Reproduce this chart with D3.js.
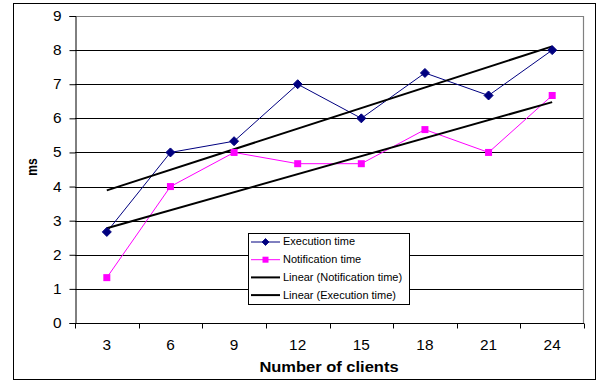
<!DOCTYPE html>
<html>
<head>
<meta charset="utf-8">
<script src="https://cdn.jsdelivr.net/npm/d3@7"></script>
<style>
  html, body { margin: 0; padding: 0; background: #fff; }
  svg { display: block; font-family: "Liberation Sans", Arial, sans-serif; }
</style>
</head>
<body>
<svg id="chart" width="597" height="381"></svg>
<script>
// Number of clients on the x axis
const clients = ["3", "6", "9", "12", "15", "18", "21", "24"];
// Measured times in ms
const executionTime = [2.67, 5.0, 5.33, 7.0, 6.0, 7.33, 6.67, 8.0];
const notificationTime = [1.33, 4.0, 5.0, 4.67, 4.67, 5.67, 5.0, 6.67];
const yTicks = [0, 1, 2, 3, 4, 5, 6, 7, 8, 9];
const legendLabels = ["Execution time", "Notification time", "Linear (Notification time)", "Linear (Execution time)"];

const svg = d3.select("#chart");
const plot = { left: 75, right: 584, top: 16, bottom: 323 };
const WIDEN = 1.1; // text is set slightly wide

// Widen text horizontally while keeping its anchor point fixed
function widen(sel, k = WIDEN) {
  sel.each(function () {
    const x0 = +this.getAttribute("x") || 0;
    d3.select(this).attr("transform", `translate(${x0 * (1 - k)},0) scale(${k},1)`);
  });
}

// Outer chart frame
svg.append("rect")
  .attr("x", 13.5).attr("y", 3.5).attr("width", 582).attr("height", 376)
  .attr("fill", "#fff").attr("stroke", "#000").attr("stroke-width", 1);

const x = d3.scaleBand().domain(clients).range([plot.left, plot.right]);
const y = d3.scaleLinear().domain([0, 9]).range([plot.bottom, plot.top]);

// Horizontal gridlines
svg.append("g").selectAll("line")
  .data(yTicks.filter(v => v > 0 && v < 9))
  .join("line")
  .attr("x1", plot.left).attr("x2", plot.right)
  .attr("y1", d => Math.round(y(d)) + 0.5).attr("y2", d => Math.round(y(d)) + 0.5)
  .attr("stroke", "#000").attr("stroke-width", 1);

// Plot area border (top and right in gray)
svg.append("path")
  .attr("d", `M${plot.left},${plot.top + 0.5}H${plot.right - 0.5}V${plot.bottom}`)
  .attr("fill", "none").attr("stroke", "#808080").attr("stroke-width", 1.2);

// Y axis
const yAxis = d3.axisLeft(y).tickValues(yTicks).tickSize(6).tickPadding(8).tickFormat(d3.format("d"));
const gy = svg.append("g").attr("transform", `translate(${plot.left + 0.5},0)`).call(yAxis);
gy.selectAll("text").attr("font-size", 14).attr("font-family", "Liberation Sans, Arial, sans-serif").attr("fill", "#000");
gy.selectAll("line").attr("stroke", "#000");
gy.select(".domain").attr("stroke", "#000");
widen(gy.selectAll("text"));

// X axis: labels centred on bands, tick marks on band boundaries
const gx = svg.append("g").attr("transform", `translate(0,${plot.bottom + 0.5})`);
gx.append("line").attr("x1", plot.left).attr("x2", plot.right).attr("stroke", "#000");
const bounds = clients.map(c => x(c)).concat([x(clients[clients.length - 1]) + x.bandwidth()]);
gx.selectAll("line.tick").data(bounds).join("line").attr("class", "tick")
  .attr("x1", d => Math.round(d) + 0.5).attr("x2", d => Math.round(d) + 0.5)
  .attr("y1", 0).attr("y2", 5).attr("stroke", "#000");
gx.selectAll("text").data(clients).join("text")
  .attr("x", d => x(d) + x.bandwidth() / 2).attr("y", 27)
  .attr("text-anchor", "middle").attr("font-size", 14).text(d => d)
  .call(widen);

// Axis titles
svg.append("text").attr("x", 329).attr("y", 372).attr("text-anchor", "middle")
  .attr("font-size", 15).attr("font-weight", "bold").text("Number of clients")
  .call(widen);
svg.append("text").attr("transform", "translate(37,167) rotate(-90) scale(1,1.25)").attr("text-anchor", "middle")
  .attr("font-size", 12).attr("font-weight", "bold").text("ms");

const cx = c => x(c) + x.bandwidth() / 2;

// Least-squares trend of a series against category index
function trend(values) {
  const n = values.length;
  const xs = values.map((_, i) => i + 1);
  const mx = d3.mean(xs), my = d3.mean(values);
  const sxy = d3.sum(xs, (xi, i) => (xi - mx) * (values[i] - my));
  const sxx = d3.sum(xs, xi => (xi - mx) ** 2);
  const b = sxy / sxx, a = my - b * mx;
  return [[clients[0], a + b * 1], [clients[n - 1], a + b * n]];
}

const line = d3.line().x(d => cx(d[0])).y(d => y(d[1]));

// Data series
const execPts = clients.map((c, i) => [c, executionTime[i]]);
const notifPts = clients.map((c, i) => [c, notificationTime[i]]);

svg.append("path").datum(notifPts).attr("d", line)
  .attr("fill", "none").attr("stroke", "#ff00ff").attr("stroke-width", 1);
svg.append("path").datum(execPts).attr("d", line)
  .attr("fill", "none").attr("stroke", "#000080").attr("stroke-width", 1);

// Trend lines
svg.append("path").datum(trend(notificationTime)).attr("d", line)
  .attr("fill", "none").attr("stroke", "#000").attr("stroke-width", 2);
svg.append("path").datum(trend(executionTime)).attr("d", line)
  .attr("fill", "none").attr("stroke", "#000").attr("stroke-width", 2);

// Wide, slightly rounded diamond marker
function diamondPath(w, h) {
  const p = d3.path();
  p.moveTo(0, -h / 2); p.lineTo(w / 2, 0); p.lineTo(0, h / 2); p.lineTo(-w / 2, 0); p.closePath();
  return p.toString();
}

// Markers
svg.append("g").selectAll("path").data(execPts).join("path")
  .attr("transform", d => `translate(${cx(d[0])},${y(d[1])})`)
  .attr("d", diamondPath(9, 9)).attr("fill", "#000080")
  .attr("stroke", "#000080").attr("stroke-width", 1).attr("stroke-linejoin", "round");
svg.append("g").selectAll("rect").data(notifPts).join("rect")
  .attr("x", d => cx(d[0]) - 3.5).attr("y", d => y(d[1]) - 3.5)
  .attr("width", 7).attr("height", 7).attr("fill", "#ff00ff");

// Legend
const lg = svg.append("g").attr("transform", "translate(248,233)");
lg.append("rect").attr("x", 0.5).attr("y", 0.5).attr("width", 161).attr("height", 71)
  .attr("fill", "#fff").attr("stroke", "#000").attr("stroke-width", 1);
const legendStyles = [
  { color: "#000080", w: 1, marker: "diamond" },
  { color: "#ff00ff", w: 1, marker: "square" },
  { color: "#000", w: 2, marker: null },
  { color: "#000", w: 2, marker: null }
];
legendLabels.forEach((lab, i) => {
  const yy = 9 + i * 17.7;
  const s = legendStyles[i];
  lg.append("line").attr("x1", 3).attr("x2", 32).attr("y1", yy).attr("y2", yy)
    .attr("stroke", s.color).attr("stroke-width", s.w);
  if (s.marker === "diamond") {
    lg.append("path").attr("transform", `translate(17.5,${yy})`)
      .attr("d", diamondPath(7, 7)).attr("fill", s.color)
      .attr("stroke", s.color).attr("stroke-width", 0.8).attr("stroke-linejoin", "round");
  } else if (s.marker === "square") {
    lg.append("rect").attr("x", 14.5).attr("y", yy - 3).attr("width", 6).attr("height", 6).attr("fill", s.color);
  }
  lg.append("text").attr("x", 35).attr("y", yy + 3.5).attr("font-size", 10).text(lab).call(widen);
});
</script>
</body>
</html>
